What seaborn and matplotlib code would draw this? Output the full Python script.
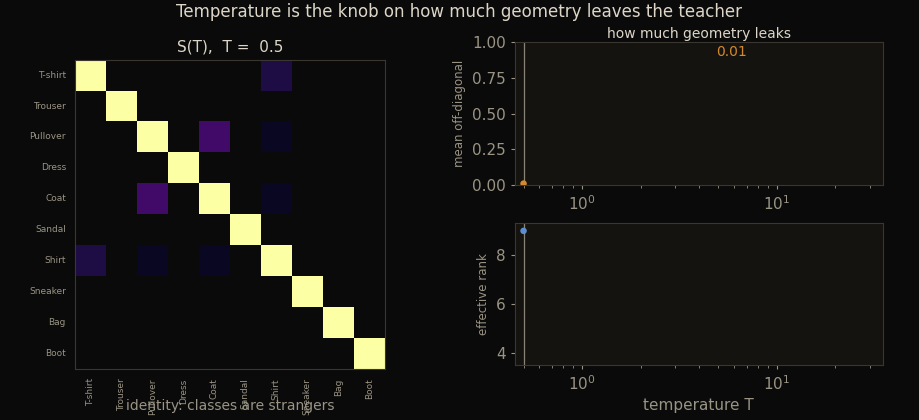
import numpy as np
import pandas as pd
import seaborn as sns
import matplotlib.pyplot as plt

classes = ["T-shirt", "Trouser", "Pullover", "Dress", "Coat",
           "Sandal", "Shirt", "Sneaker", "Bag", "Boot"]
# off-diagonal similarity pairs (symmetric)
pairs = [("T-shirt", "Shirt", 0.12), ("Pullover", "Coat", 0.20),
         ("Pullover", "Shirt", 0.06), ("Coat", "Shirt", 0.06)]
temp_now = [0.5]
leak_vals = [0.01]
rank_vals = [8.98]

S = pd.DataFrame(np.eye(len(classes)), index=classes, columns=classes)
for a, b, v in pairs:
    S.loc[a, b] = v
    S.loc[b, a] = v

bg = "#0a0a0a"
panel = "#15130f"
edge = "#3b3730"
txt = "#9a9484"
light = "#ddd6c8"

sns.set_style("dark")
plt.rcParams.update({
    "figure.facecolor": bg, "axes.facecolor": panel, "axes.edgecolor": edge,
    "text.color": light, "axes.labelcolor": txt, "xtick.color": txt, "ytick.color": txt,
})

fig = plt.figure(figsize=(9.19, 4.2), dpi=100)
ax_h = fig.add_axes([0.0816, 0.119, 0.337, 0.741])
ax_t = fig.add_axes([0.560, 0.5595, 0.4004, 0.340])
ax_b = fig.add_axes([0.560, 0.131, 0.4004, 0.338])

fig.suptitle("Temperature is the knob on how much geometry leaves the teacher",
             color=light, fontsize=12, y=0.992)

# near-zero cells blend into the background
ax_h.set_facecolor(bg)
sns.heatmap(S, ax=ax_h, cmap="inferno", vmin=0, vmax=1, cbar=False, square=True,
            mask=S.values < 0.005)
ax_h.set_title("S(T),  T =  0.5", color=light, fontsize=11, pad=6)
ax_h.tick_params(labelsize=6.5, length=3, color=txt)
ax_h.set_xticklabels(classes, rotation=90)
ax_h.set_yticklabels(classes, rotation=0)
ax_h.set_xlabel("identity: classes are strangers", fontsize=10, color=txt)
ax_h.xaxis.set_label_coords(0.5, -0.095)
ax_h.set_ylabel("")
for s in ax_h.spines.values():
    s.set_visible(True)
    s.set_color(edge)

df = pd.DataFrame({"T": temp_now, "leak": leak_vals, "rank": rank_vals})

for ax in (ax_t, ax_b):
    ax.set_xscale("log")
    ax.set_xlim(0.45, 35)
    ax.axvline(temp_now[0], color="#8a8478", lw=0.9)
    ax.tick_params(labelsize=11, length=3, color=txt, which="both", bottom=True, left=True)
    ax.tick_params(which="minor", length=2)
    ax.grid(False)
    for s in ax.spines.values():
        s.set_color(edge)

sns.scatterplot(data=df, x="T", y="leak", ax=ax_t, color="#d4892c", s=22, edgecolor="none", zorder=3)
ax_t.set_ylim(0, 1)
ax_t.set_yticks([0, 0.25, 0.5, 0.75, 1.0])
ax_t.set_yticklabels(["0.00", "0.25", "0.50", "0.75", "1.00"])
ax_t.set_title("how much geometry leaks", color=light, fontsize=10, pad=3)
ax_t.set_ylabel("mean off-diagonal", fontsize=8.5)
ax_t.set_xlabel("")
ax_t.text(0.59, 0.93, f"{leak_vals[0]:.2f}", transform=ax_t.transAxes,
          color="#d4892c", fontsize=10, ha="center", va="center")

sns.scatterplot(data=df, x="T", y="rank", ax=ax_b, color="#5b8fd0", s=22, edgecolor="none", zorder=3)
ax_b.set_ylim(3.5, 9.3)
ax_b.set_yticks([4, 6, 8])
ax_b.set_ylabel("effective rank", fontsize=8.5)
ax_b.set_xlabel("temperature T", fontsize=11)

fig.savefig("out.png", dpi=100, facecolor=bg)
